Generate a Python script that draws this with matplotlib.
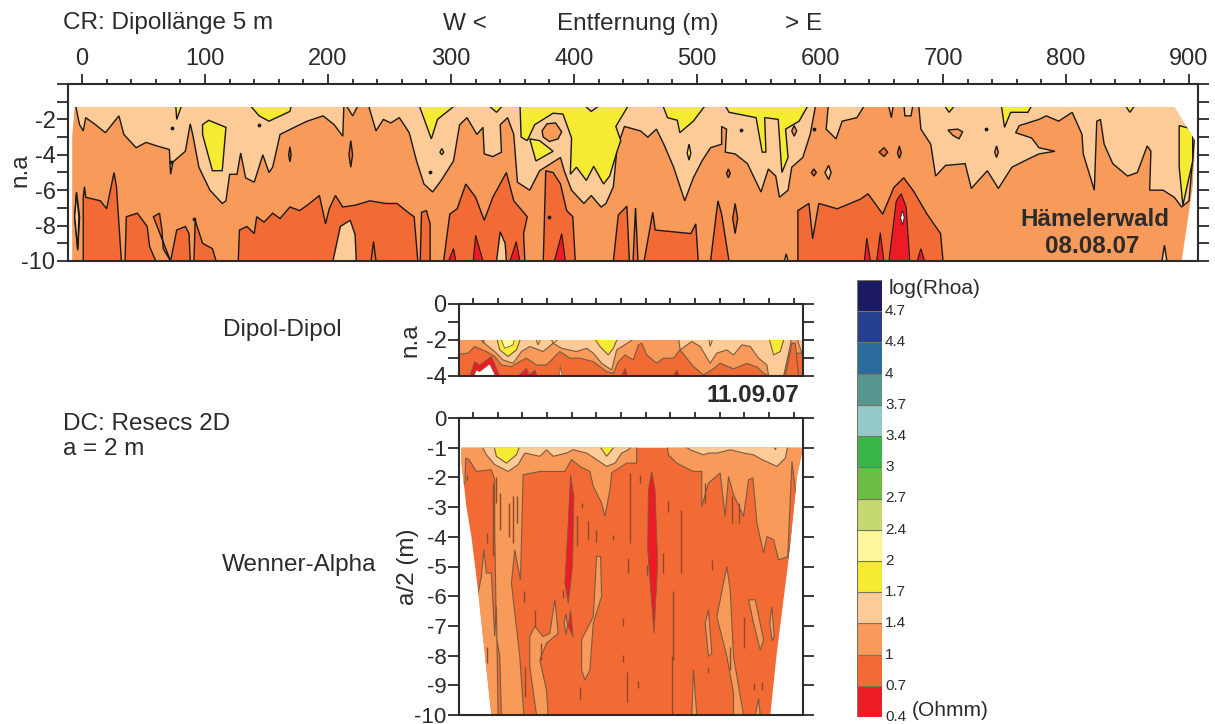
"""Scheinbare Widerstaende Haemelerwald: CR-Profil, Dipol-Dipol und Wenner-Alpha."""
import matplotlib

matplotlib.use("Agg")
import matplotlib.pyplot as plt
from matplotlib.patches import Polygon

plt.rcParams["font.family"] = ["Liberation Sans", "DejaVu Sans"]
plt.rcParams["axes.unicode_minus"] = False

W, H = 1215, 724
RED, DARK, ORANGE, TAN = "#ED1C24", "#F26B35", "#F79A5A", "#FDCB97"
YELLOW, PALE = "#F6EB33", "#FFF79A"
INK = "#2b2b2b"

CB_COLORS = [RED, DARK, ORANGE, TAN, YELLOW, PALE, "#C4DA6E", "#6DBE45", "#39B54A",
             "#94C9C9", "#56978F", "#2B6C9F", "#25408F", "#1C1A63"]
CB_LABELS = ["0.4", "0.7", "1", "1.4", "1.7", "2", "2.4", "2.7", "3", "3.4", "3.7", "4", "4.4", "4.7"]

CR_DOMAIN_X = [-6, 888, 905, 903, 894, -8, -8]
CR_DOMAIN_Y = [-1.3, -1.3, -3.2, -5.8, -10, -10, -3]

CR_TAN_X = [-5, -5, -2, 1, 3, 11, 19, 23, 30, 34, 44, 52, 61, 71, 72, 74, 84, 88, 90, 95, 104, 114, 117,
            120, 126, 129, 133, 140, 147, 152, 155, 161, 174, 183, 196, 205, 212, 213, 213, 220, 226, 232,
            239, 245, 251, 258, 266, 272, 278, 285, 292, 302, 307, 313, 321, 326, 327, 334, 341, 340, 346,
            351, 354, 364, 372, 389, 392, 398, 408, 414, 422, 426, 432, 435, 441, 454, 460, 467, 473, 481,
            490, 497, 504, 511, 520, 520, 524, 523, 531, 541, 552, 558, 564, 567, 574, 577, 586, 592, 597,
            607, 605, 613, 618, 630, 638, 655, 658, 660, 668, 669, 674, 676, 680, 682, 690, 694, 702, 718,
            723, 736, 745, 756, 769, 778, 791, 778, 772, 759, 762, 778, 784, 794, 805, 813, 814, 823, 825,
            828, 831, 838, 850, 858, 866, 869, 868, 879, 888, 894, 900, 905, 920, 920]
CR_TAN_Y = [-1, -1.3, -2.3, -2.65, -1.9, -2.3, -2.75, -2.4, -1.8, -2.85, -3.6, -3.3, -3.5, -3.7, -5.1, -4.4,
            -3.8, -2.25, -2.85, -4.7, -6, -6.75, -6.6, -5.1, -5.1, -3.9, -5.3, -5.55, -4, -5, -4.7, -2.85,
            -2.4, -2.1, -1.8, -2.3, -2.95, -1, -1, -1.8, -1, -1, -2.65, -2, -2.2, -1.9, -2.75, -4.35, -5.65,
            -6.1, -5.45, -4.35, -2.3, -1.9, -2.85, -2.45, -3.95, -4.1, -3.85, -2.3, -1.9, -2.85, -5.55, -6,
            -4.9, -4.15, -4.9, -6, -6.75, -6.3, -6.95, -6.75, -5.8, -3.6, -2.4, -2.65, -3, -2.55, -3.4, -4.7,
            -6.6, -5.3, -4.35, -3.6, -3.4, -2.4, -2.55, -3.85, -3.95, -4.5, -6.1, -4.8, -5.2, -6.4, -6, -4.7,
            -4.15, -2.85, -1, -1, -2.55, -3.1, -2.1, -1.9, -1, -1, -1.9, -1, -1, -1.8, -1.8, -1, -1, -2.55,
            -3.4, -5.2, -4.6, -4.5, -5.9, -4.9, -5.9, -4.7, -4.25, -3.95, -3.8, -3.6, -3.05, -2.75, -2.35, -2,
            -1.8, -2.1, -1.6, -2.85, -3.95, -6, -2.1, -2, -3.4, -4.5, -5.2, -5, -3.5, -3.8, -6, -6, -6.4,
            -6.95, -6.6, -2.55, -2.55, -1]

# je Flaeche: (x-Werte, n.a-Werte)
CR_YELLOW = [
    ([76, 77, 82], [-1, -2, -1]),
    ([98, 103, 117, 114, 106, 98], [-2.3, -2.05, -2.45, -4.9, -4.9, -2.85]),
    ([134, 144, 152, 169, 171], [-1, -1.8, -2.1, -1.55, -1]),
    ([273, 284, 289, 307], [-1, -3.1, -2, -1]),
    ([327, 337, 345], [-1, -1.6, -1]),
    ([356, 357, 362, 368, 383, 391, 398, 397, 402, 410, 416, 424, 429, 435, 438, 434, 446, 425, 414, 405],
     [-1, -3, -3.2, -2.3, -1.65, -1.7, -3.05, -5.1, -4.7, -5.45, -4.65, -5.65, -5.2, -3.8, -3.2, -2.4, -1, -1, -1.55, -1]),
    ([364, 369, 383, 372], [-3.1, -4.35, -3.8, -3.2]),
    ([471, 476, 484, 486, 497, 509], [-1, -1.9, -2.05, -2.75, -2.1, -1]),
    ([521, 526, 548, 553, 556, 555, 566, 569, 574, 572, 583, 592],
     [-1, -1.6, -1.9, -3.85, -3.85, -1.9, -2, -5, -4.15, -2.55, -2.1, -1]),
    ([699, 705, 712], [-1, -1.6, -1]),
    ([747, 750, 755, 769, 774], [-1, -2.45, -1.6, -1.6, -1]),
    ([846, 852, 858], [-1, -1.6, -1]),
    ([892, 903, 903, 895, 892], [-2.35, -2.55, -4.35, -6.85, -4.7]),
    ([291, 292.5, 294, 292.5], [-3.85, -3.65, -3.85, -4]),
    ([492, 493.5, 495, 493.5], [-3.9, -3.4, -3.9, -4.3]),
]
CR_ORANGE = [
    ([374, 378, 385, 390, 387, 380, 375], [-2.65, -2.25, -2.2, -2.7, -3.1, -3.25, -3]),
    ([704, 712, 716, 713, 708], [-2.6, -2.55, -2.7, -3.1, -2.9]),
    ([742, 743.5, 745, 743.5], [-3.85, -3.5, -3.85, -4.15]),
    ([577, 579, 581, 579], [-2.65, -2.35, -2.65, -2.95]),
    ([-6, -4.5, -2, -3.5], [-7.5, -6.1, -7.5, -9.4]),
]
CR_TAN_ISLANDS = [
    ([604, 607, 609, 607], [-5, -4.6, -5, -5.4]),
    ([-6, -4.5, -2.5, -3.5], [-7.5, -6.2, -7.5, -9.3]),
    ([204, 210, 218, 222, 223], [-10, -8.05, -7.7, -8.5, -10]),
    ([337, 340, 344, 345], [-10, -8.35, -9, -10]),
    ([664, 666, 668], [-10, -9.2, -10]),
    ([878, 880, 882], [-10, -9.1, -10]),
    ([571, 572.5, 574], [-10, -9.6, -10]),
]
CR_DARK = [
    ([1, 1, 2, 3, 15, 20, 26, 28, 32], [-10, -6.4, -5.8, -6.4, -6.6, -7.05, -5, -5.8, -10]),
    ([35, 36, 45, 53, 55, 60], [-10, -7.5, -7.3, -8.05, -9.2, -10]),
    ([58, 63, 65, 66, 72], [-7.5, -7.3, -8.25, -9.3, -10]),
    ([72, 77, 84, 87, 88], [-10, -8.25, -8.05, -8.45, -10]),
    ([91, 92, 98, 106, 109], [-10, -7.7, -9, -9.3, -10]),
    ([127, 128, 134, 140, 142, 148, 155, 161, 169, 177, 185, 193, 198, 201, 206, 212, 222, 234, 247, 256, 266, 270, 273],
     [-10, -8.25, -8.05, -8.45, -7.5, -7.8, -7.3, -7.6, -6.95, -7.15, -6.75, -6.3, -7.9, -7.05, -6.3, -6.95, -6.85,
      -6.6, -6.75, -6.75, -7.3, -7.5, -10]),
    ([275, 276, 280, 283, 283], [-10, -7.25, -7.15, -7.9, -10]),
    ([294, 299, 305, 312, 320, 327, 334, 345, 351, 362, 359, 360],
     [-10, -7.35, -7.05, -5.65, -6.4, -7.7, -6.4, -5, -6.6, -7.5, -8.45, -10]),
    ([375, 377, 383, 389, 394, 399, 401], [-10, -4.9, -5, -5.65, -7.15, -7.5, -10]),
    ([432, 436, 443, 445], [-10, -7.4, -6.9, -10]),
    ([448, 450, 452], [-10, -7, -10]),
    ([457, 464, 466, 495, 499, 501], [-10, -7.25, -8.25, -8.45, -7.9, -10]),
    ([511, 517, 520, 526], [-10, -6.6, -7.35, -10]),
    ([529, 531, 533, 531], [-7.6, -6.75, -7.6, -8.45]),
    ([582, 582, 591, 594, 599, 614, 633, 639, 651, 660, 668, 676, 687, 698, 700],
     [-10, -7.15, -6.75, -8.75, -6.75, -7.05, -6.5, -6.2, -7.35, -5.85, -5.3, -6.05, -7.35, -8.45, -10]),
    ([168, 169, 170, 169], [-4, -3.55, -4, -4.4]),
    ([217, 218.5, 220, 218.5], [-4, -3.2, -4, -4.7]),
    ([648, 652, 655, 652], [-3.85, -3.6, -3.85, -4.1]),
    ([663, 664.5, 666, 664.5], [-3.9, -3.5, -3.9, -4.2]),
    ([524, 525.5, 527, 525.5], [-5.05, -4.8, -5.05, -5.3]),
    ([593, 595, 597, 595], [-5, -4.8, -5, -5.2]),
    ([235, 237, 239], [-10, -8.9, -10]),
]
CR_RED = [
    ([298, 302, 304], [-10, -9.3, -10]),
    ([318, 320, 326], [-10, -8.55, -10]),
    ([348, 353, 356], [-10, -8.9, -10]),
    ([384, 390, 393], [-10, -8.45, -10]),
    ([636, 638, 641], [-10, -8.7, -10]),
    ([646, 649, 652], [-10, -8.4, -10]),
    ([656, 662, 666, 670, 673], [-10, -6.6, -6.2, -6.95, -10]),
    ([679, 682, 685], [-10, -9.3, -10]),
]
CR_DOTS_X = [73, 144, 283, 380, 91, 536, 595, 735, 72]
CR_DOTS_Y = [-2.5, -2.3, -5, -7.5, -7.6, -2.6, -2.55, -2.55, -4.4]

# --- Dipol-Dipol (x: Profilposition ohne Beschriftung) ---
DD_DOMAIN_X = [238, 1268, 1268, 238]
DD_DOMAIN_Y = [-2, -2, -4, -4]
DD_ORANGE_X = [225, 225, 265, 285, 320, 345, 365, 395, 420, 440, 470, 500, 540, 570, 600, 640, 680, 700, 715,
               735, 760, 775, 785, 800, 830, 850, 880, 900, 940, 970, 1000, 1020, 1060, 1100, 1130, 1150, 1165,
               1210, 1225, 1280, 1280]
DD_ORANGE_Y = [-1.8, -2.83, -2.73, -2.36, -2.64, -2.92, -3.39, -3.48, -3.2, -3.01, -3.39, -3.39, -2.64, -3.01,
               -3.01, -3.2, -3.76, -3.85, -3.2, -2.83, -3.11, -2.27, -2.18, -2.83, -3.29, -3.01, -3.01, -2.55,
               -3.48, -3.94, -3.6, -3.29, -3.6, -3.3, -3.5, -3.85, -4, -4, -2.73, -2.73, -1.8]
DD_TAN_X = [295, 320, 345, 370, 400, 425, 450, 490, 520, 545, 590, 620, 640, 665, 695, 710, 750, 770,
            895, 900, 935, 960, 990, 1010, 1040, 1060, 1085, 1110, 1135, 1160, 1165, 1210, 1225, 1235]
DD_TAN_Y = [-1.8, -2.27, -2.64, -3.11, -3.29, -2.64, -2.36, -2.64, -2.18, -2.46, -2.64, -2.46, -2.73, -3.29,
            -3.67, -2.55, -2.08, -1.8, -1.8, -2.55, -2.08, -2.36, -3.29, -2.73, -2.55, -2.83, -2.27, -2.36,
            -3.01, -3.39, -4, -4, -2.73, -1.8]
DD_TAN_EDGE_X = [1250, 1255, 1268, 1280, 1280]
DD_TAN_EDGE_Y = [-1.8, -2.2, -2.9, -2.9, -1.8]
DD_YELLOW = [
    ([350, 360, 385, 410, 425], [-1.8, -2.55, -2.92, -2.55, -1.8]),
    ([640, 660, 685, 700, 715], [-1.8, -2.36, -2.83, -2.46, -1.8]),
    ([985, 990, 1000], [-1.8, -2.36, -1.8]),
    ([1165, 1180, 1200, 1213], [-1.8, -2.83, -2.64, -1.8]),
    ([305, 310, 318], [-1.8, -2.18, -1.8]),
    ([465, 475, 485], [-1.8, -2.27, -1.8]),
    ([510, 520, 545], [-1.8, -2.18, -1.8]),
]
DD_PALE_X = [360, 375, 400, 405]
DD_PALE_Y = [-1.8, -2.46, -2.27, -1.8]
DD_DARK_SPIKE_X = [1215, 1235, 1245, 1255]
DD_DARK_SPIKE_Y = [-4, -2.18, -2.18, -4]
DD_RED = [
    ([270, 285, 300, 335, 360], [-4, -3.2, -3.39, -2.92, -4]),
    ([415, 440, 450], [-4, -3.57, -4]),
    ([445, 465, 472], [-4, -3.67, -4]),
    ([725, 735, 742], [-4, -3.57, -4]),
    ([880, 890, 897], [-4, -3.67, -4]),
]
DD_WHITE = [
    ([280, 290, 300, 330, 350], [-4.1, -3.67, -3.76, -3.33, -4.1]),
    ([539, 541, 546], [-4.1, -3.39, -4.1]),
]

# --- Wenner-Alpha, a/2 (m) ---
WA_DOMAIN_X = [245, 1268, 1250, 1225, 1190, 1170, 335, 295, 275, 260, 250, 245]
WA_DOMAIN_Y = [-1, -1, -1.97, -4.75, -7.87, -10, -10, -5.8, -3.99, -2.98, -1.97, -1.5]
WA_ORANGE_X = [230, 1280, 1280, 1225, 1195, 1180, 1160, 1150, 1130, 1118, 1105, 1090, 1060, 1045, 1035, 1020, 985,
               965, 965, 940, 890, 865, 860, 770, 770, 740, 695, 690, 675, 665, 640, 630, 600, 575, 555, 480, 430,
               422, 405, 395, 420, 432, 365, 360, 350, 345, 345, 335, 290, 268, 258, 256, 240]
WA_ORANGE_Y = [-0.8, -0.8, -4.66, -4.66, -4.78, -4.1, -3.99, -4.55, -3.54, -2.02, -2.08, -3.31, -2.58, -1.97, -3.31,
               -1.85, -2.19, -2.98, -1.8, -1.8, -1.52, -1.24, -0.8, -0.8, -1.52, -1.52, -1.85, -2.42, -3.31, -2.87,
               -2.3, -1.8, -1.63, -1.4, -1.8, -1.8, -1.91, -5.45, -4.44, -5.56, -8.03, -10, -10, -8.03, -7.36, -3.76,
               -2.08, -1.74, -1.8, -1.4, -1.35, -2.19, -2.19]
WA_ORANGE_ISLANDS = [
    ([295, 305, 312, 320, 335, 345, 350, 355, 330, 290],
     [-5.9, -5.34, -4.44, -5.22, -5.22, -7.36, -6.35, -10, -10, -5.9]),
    ([450, 450, 465, 490, 510, 525, 535, 500, 480, 500, 505, 470],
     [-8.37, -7.36, -7.02, -7.36, -7.25, -6.12, -7.25, -7.58, -8.15, -9.16, -10, -10]),
    ([605, 605, 640, 650, 662, 665, 640, 630, 615],
     [-8.48, -7.47, -6.69, -4.66, -4.66, -6.01, -6.91, -8.48, -8.82]),
    ([1010, 1040, 1050, 1060, 1090, 1060, 1060, 1040],
     [-6.69, -5, -5.79, -8.03, -10, -10, -9.27, -8.03]),
    ([1105, 1125, 1150, 1140, 1120], [-6.12, -6.12, -7.47, -7.81, -6.91]),
    ([975, 985, 995, 985], [-6.91, -6.46, -7.92, -8.03]),
    ([935, 940, 950], [-10, -8.48, -10]),
    ([1125, 1135, 1140], [-10, -9.44, -10]),
    ([1168, 1175, 1182, 1176], [-6.91, -6.35, -7.36, -7.5]),
    ([553, 558, 563, 558], [-6.9, -6.6, -7, -7.3]),
]
WA_DARK_SPIKE_X = [1222, 1235, 1250, 1240]
WA_DARK_SPIKE_Y = [-4.72, -1.46, -2.87, -3.54]
WA_TAN = [
    ([300, 320, 345, 385, 415, 435, 480, 500, 520, 560, 580, 620, 650, 680, 705, 725, 745, 770],
     [-0.8, -1.24, -1.57, -1.8, -1.57, -1.18, -1.29, -1.07, -1.29, -1.18, -1.07, -1.18, -1.4, -1.63, -1.52, -1.18, -1.07, -0.8]),
    ([895, 930, 970, 985, 1010, 1050, 1090, 1120, 1145, 1190, 1215, 1225],
     [-0.8, -1.07, -1.24, -1.18, -1.18, -1.07, -1.18, -1.24, -1.4, -1.63, -1.35, -0.8]),
]
WA_YELLOW = [
    ([340, 350, 380, 410, 425], [-0.8, -1.29, -1.52, -1.24, -0.8]),
    ([650, 680, 715], [-0.8, -1.29, -0.8]),
    ([1178, 1185, 1195], [-0.8, -1.07, -0.8]),
]
WA_RED = [
    ([572, 582, 578, 565, 555, 565], [-1.91, -2.64, -5, -6.24, -5.56, -3.54]),
    ([815, 825, 833, 822, 815, 803, 805], [-1.8, -2.42, -4.89, -7.25, -6.24, -4.44, -2.42]),
    ([572, 580, 565], [-6.46, -7.36, -7.02]),
]
WA_STREAK_X = [262, 340, 350, 362, 388, 400, 412, 322, 605, 590, 625, 647, 698, 750, 780, 865, 903, 745, 800, 850,
               997, 548, 432, 730, 728, 775, 740, 600, 322, 880, 875, 985, 1092, 1120, 1145, 485, 465, 1055, 1075,
               975, 435, 1050]
WA_STREAK_TOP = [-1.91, -2.19, -1.97, -2.53, -2.87, -2.64, -2.64, -3.88, -2.87, -3.31, -3.48, -3.76, -3.93, -1.85,
                 -1.91, -2.81, -3.09, -4.72, -4.94, -4.55, -4.78, -5.79, -5.84, -6.74, -7.98, -8.87, -8.54, -9.05,
                 -7.7, -5.84, -8.03, -8.37, -6.69, -8.93, -8.88, -7.58, -6.46, -2.64, -2.87, -2.19, -8.37, -7.7]
WA_STREAK_BOT = [-2.08, -4.66, -2.87, -3.76, -3.99, -4.21, -3.54, -4.21, -3.03, -4.32, -4.1, -4.16, -4.1, -4.21,
                 -2.19, -3.15, -5.22, -5.22, -5.28, -5.22, -5.11, -6.07, -6.18, -7.02, -8.2, -9.1, -9.55, -9.49,
                 -8.26, -8.15, -10, -8.6, -7.75, -9.16, -9.16, -8.15, -7.02, -3.54, -3.54, -2.87, -9.38, -8.5]
LOWER_TICKS = [280, 354, 428, 501, 575, 649, 723, 797, 871, 945, 1018, 1092, 1166, 1240]


def make_axes(left, top, right, bottom):
    return fig.add_axes([left / W, 1 - bottom / H, (right - left) / W, (bottom - top) / H])


def label(x, y, s, **kw):
    fig.text(x / W, 1 - y / H, s, color=INK, va="center", **kw)


def fill_all(ax, polys, color, clip, edge, lw):
    for xs, ys in polys:
        p = Polygon(list(zip(xs, ys)), closed=True, facecolor=color, edgecolor=edge, linewidth=lw)
        ax.add_patch(p)
        p.set_clip_path(clip)


def style_axes(ax, tick_size, ylen=8):
    for s in ax.spines.values():
        s.set_linewidth(1.5)
        s.set_color(INK)
        s.set_zorder(10)
    ax.xaxis.tick_top()
    ax.tick_params(axis="y", which="both", left=True, right=True, length=ylen, width=1.3,
                   color=INK, labelsize=tick_size, labelcolor=INK, pad=1)
    ax.tick_params(axis="x", which="both", color=INK, width=1.3, labelcolor=INK)


fig = plt.figure(figsize=(W / 100, H / 100), dpi=100)

# CR-Profil oben
ax = make_axes(68, 84, 1198, 261)
ax.set_xlim(-11.4, 907.3)
ax.set_ylim(-10, 0)
dom = Polygon(list(zip(CR_DOMAIN_X, CR_DOMAIN_Y)), closed=True, facecolor=ORANGE, edgecolor="none")
ax.add_patch(dom)
fill_all(ax, [(CR_TAN_X, CR_TAN_Y)], TAN, dom, "#1a1a1a", 1.0)
fill_all(ax, CR_YELLOW, YELLOW, dom, "#1a1a1a", 1.0)
fill_all(ax, CR_ORANGE, ORANGE, dom, "#1a1a1a", 1.0)
fill_all(ax, CR_DARK, DARK, dom, "#1a1a1a", 1.0)
fill_all(ax, CR_TAN_ISLANDS, TAN, dom, "#1a1a1a", 1.0)
fill_all(ax, CR_RED, RED, dom, "#1a1a1a", 0.8)
fill_all(ax, [([665.5, 667, 668.5, 667], [-7.55, -7.15, -7.55, -7.95])], "white", dom, "#1a1a1a", 0.6)
ax.scatter(CR_DOTS_X, CR_DOTS_Y, s=3, color="#1a1a1a", zorder=5)
style_axes(ax, 17)
ax.set_xticks(range(0, 901, 100))
ax.set_xticks(range(0, 901, 20), minor=True)
ax.tick_params(axis="x", which="major", length=7, labelsize=17, pad=3)
ax.tick_params(axis="x", which="minor", length=3.5)
ax.set_yticks([-10, -8, -6, -4, -2])
ax.set_yticks(range(-10, 1), minor=True)
label(1095, 220, "Hämelerwald", ha="center", fontsize=17.4, fontweight="bold")
label(1092, 246, "08.08.07", ha="center", fontsize=17.4, fontweight="bold")

# Dipol-Dipol
ax = make_axes(459, 304, 803, 376)
ax.set_xlim(238, 1268)
ax.set_ylim(-4, 0)
dom = Polygon(list(zip(DD_DOMAIN_X, DD_DOMAIN_Y)), closed=True, facecolor=DARK, edgecolor="none")
ax.add_patch(dom)
thin = "#7a5a42"
fill_all(ax, [(DD_ORANGE_X, DD_ORANGE_Y)], ORANGE, dom, thin, 0.8)
fill_all(ax, [(DD_TAN_X, DD_TAN_Y), (DD_TAN_EDGE_X, DD_TAN_EDGE_Y)], TAN, dom, thin, 0.8)
fill_all(ax, DD_YELLOW, YELLOW, dom, thin, 0.8)
fill_all(ax, [(DD_PALE_X, DD_PALE_Y)], PALE, dom, thin, 0.6)
fill_all(ax, [(DD_DARK_SPIKE_X, DD_DARK_SPIKE_Y)], DARK, dom, thin, 0.8)
fill_all(ax, DD_RED, RED, dom, thin, 0.6)
fill_all(ax, DD_WHITE, "white", dom, thin, 0.5)
style_axes(ax, 17)
ax.set_xticks(LOWER_TICKS)
ax.set_xticklabels([])
ax.tick_params(axis="x", length=4.5)
ax.set_yticks([-4, -2, 0])
ax.set_yticks(range(-4, 1), minor=True)

# Wenner-Alpha
ax = make_axes(459, 418, 803, 715)
ax.set_xlim(238, 1268)
ax.set_ylim(-10, 0)
dom = Polygon(list(zip(WA_DOMAIN_X, WA_DOMAIN_Y)), closed=True, facecolor=DARK, edgecolor="none")
ax.add_patch(dom)
fill_all(ax, [(WA_ORANGE_X, WA_ORANGE_Y)], ORANGE, dom, thin, 0.8)
fill_all(ax, WA_ORANGE_ISLANDS, ORANGE, dom, thin, 0.8)
fill_all(ax, [(WA_DARK_SPIKE_X, WA_DARK_SPIKE_Y)], DARK, dom, thin, 0.8)
fill_all(ax, WA_TAN, TAN, dom, thin, 0.8)
fill_all(ax, WA_YELLOW, YELLOW, dom, thin, 0.8)
fill_all(ax, WA_RED, RED, dom, thin, 0.6)
ax.vlines(WA_STREAK_X, WA_STREAK_TOP, WA_STREAK_BOT, color="#8c4a2c", linewidth=1.0)
style_axes(ax, 16)
ax.set_xticks(LOWER_TICKS)
ax.set_xticklabels([])
ax.tick_params(axis="x", length=4.5)
ax.set_yticks(range(-10, 1))

# Farbskala
ax = make_axes(857, 280, 882, 717)
ax.set_xlim(0, 1)
ax.set_ylim(0, len(CB_COLORS))
ax.bar([0.5] * len(CB_COLORS), [1] * len(CB_COLORS), width=1, bottom=range(len(CB_COLORS)),
       color=CB_COLORS, edgecolor="#7d7468", linewidth=0.8)
ax.axis("off")
for i, s in enumerate(CB_LABELS):
    ax.text(1.12, i, s, fontsize=11, color=INK, va="center", ha="left", clip_on=False)

label(63, 23, "CR: Dipollänge 5 m", ha="left", fontsize=17.5)
label(443, 24, "W <", ha="left", fontsize=17.5)
label(557, 24, "Entfernung (m)", ha="left", fontsize=17.5)
label(785, 24, "> E", ha="left", fontsize=17.5)
label(20, 170, "n.a", rotation=90, ha="center", fontsize=17.5)
label(410, 340, "n.a", rotation=90, ha="center", fontsize=17.5)
label(408, 567, "a/2 (m)", rotation=90, ha="center", fontsize=17.5)
label(223, 330, "Dipol-Dipol", ha="left", fontsize=17.5)
label(63, 424, "DC: Resecs 2D", ha="left", fontsize=17.5)
label(63, 449, "a = 2 m", ha="left", fontsize=17.5)
label(222, 565, "Wenner-Alpha", ha="left", fontsize=17.5)
label(799, 395, "11.09.07", ha="right", fontsize=17.5, fontweight="bold")
label(889, 288, "log(Rhoa)", ha="left", fontsize=15)
label(912, 710, "(Ohmm)", ha="left", fontsize=15)

fig.savefig("out.png", dpi=100)
